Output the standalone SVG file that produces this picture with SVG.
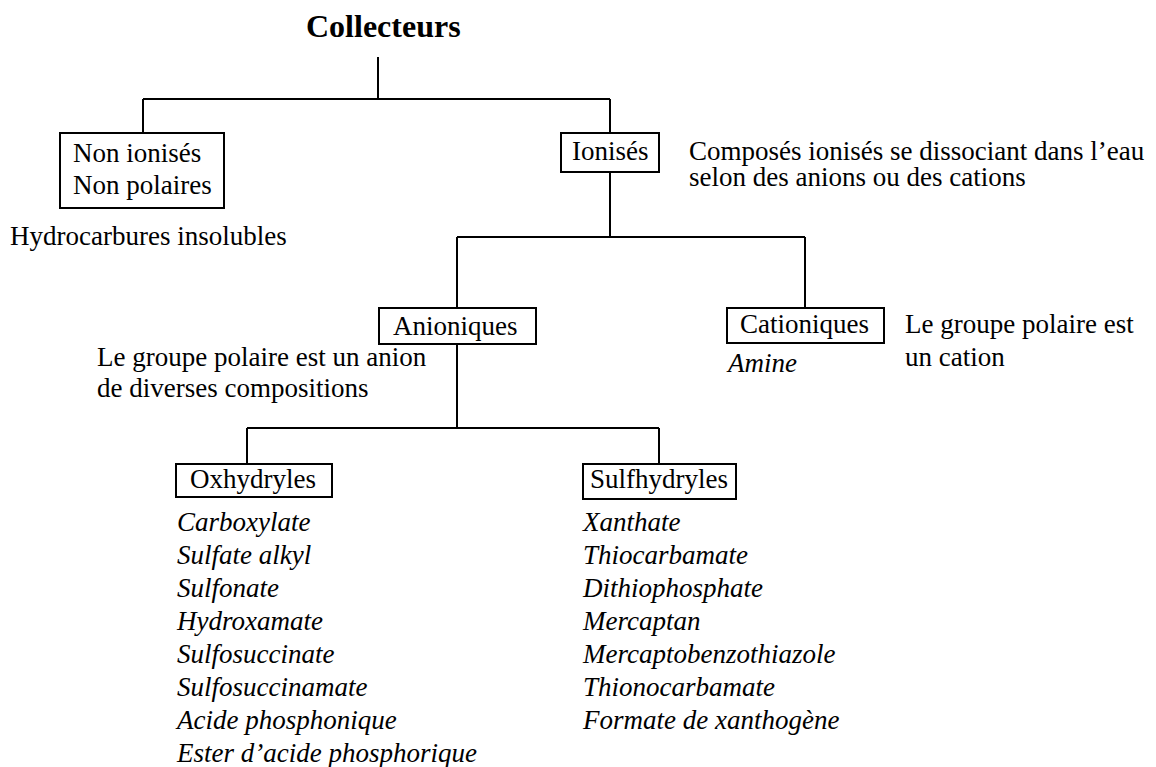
<svg xmlns="http://www.w3.org/2000/svg" width="1156" height="767" viewBox="0 0 1156 767">
<style>
text{font-family:"Liberation Serif","Times New Roman",serif;font-size:27px;fill:#000}
.title{font-weight:bold;font-size:32px}
.it{font-style:italic}
.box{fill:#fff;stroke:#000;stroke-width:2}
.conn{fill:none;stroke:#000;stroke-width:2}
</style>
<rect width="1156" height="767" fill="#fff"/>
<g id="connectors" class="conn">
<path d="M378,57 V99 M143,99 H610 M143,99 V133 M610,99 V133"/>
<path d="M610,172 V237 M457,237 H805 M457,237 V308 M805,237 V308"/>
<path d="M457,344 V428 M247,428 H659 M247,428 V464 M659,428 V464"/>
</g>
<g id="collecteurs"><text class="title" x="306" y="37">Collecteurs</text></g>
<g id="non-ionises">
<rect class="box" x="60" y="133" width="164" height="75"/>
<text x="73" y="162">Non ionisés</text>
<text x="73" y="194">Non polaires</text>
<text x="10" y="245">Hydrocarbures insolubles</text>
</g>
<g id="ionises">
<rect class="box" x="561" y="133" width="98" height="39"/>
<text x="572" y="160">Ionisés</text>
<text x="689" y="160">Composés ionisés se dissociant dans l’eau</text>
<text x="689" y="186">selon des anions ou des cations</text>
</g>
<g id="anioniques">
<rect class="box" x="379" y="308" width="157" height="36"/>
<text x="393" y="335">Anioniques</text>
<text x="97" y="366">Le groupe polaire est un anion</text>
<text x="97" y="397">de diverses compositions</text>
</g>
<g id="cationiques">
<rect class="box" x="727" y="308" width="157" height="35"/>
<text x="740" y="333">Cationiques</text>
<text x="905" y="333">Le groupe polaire est</text>
<text x="905" y="366">un cation</text>
<text class="it" x="728" y="372">Amine</text>
</g>
<g id="oxhydryles">
<rect class="box" x="176" y="464" width="156" height="33"/>
<text x="190" y="488">Oxhydryles</text>
<text class="it" x="177" y="531">Carboxylate</text>
<text class="it" x="177" y="564">Sulfate alkyl</text>
<text class="it" x="177" y="597">Sulfonate</text>
<text class="it" x="177" y="630">Hydroxamate</text>
<text class="it" x="177" y="663">Sulfosuccinate</text>
<text class="it" x="177" y="696">Sulfosuccinamate</text>
<text class="it" x="177" y="729">Acide phosphonique</text>
<text class="it" x="177" y="762">Ester d’acide phosphorique</text>
</g>
<g id="sulfhydryles">
<rect class="box" x="583" y="464" width="153" height="35"/>
<text x="590" y="488">Sulfhydryles</text>
<text class="it" x="583" y="531">Xanthate</text>
<text class="it" x="583" y="564">Thiocarbamate</text>
<text class="it" x="583" y="597">Dithiophosphate</text>
<text class="it" x="583" y="630">Mercaptan</text>
<text class="it" x="583" y="663">Mercaptobenzothiazole</text>
<text class="it" x="583" y="696">Thionocarbamate</text>
<text class="it" x="583" y="729">Formate de xanthogène</text>
</g>
</svg>
